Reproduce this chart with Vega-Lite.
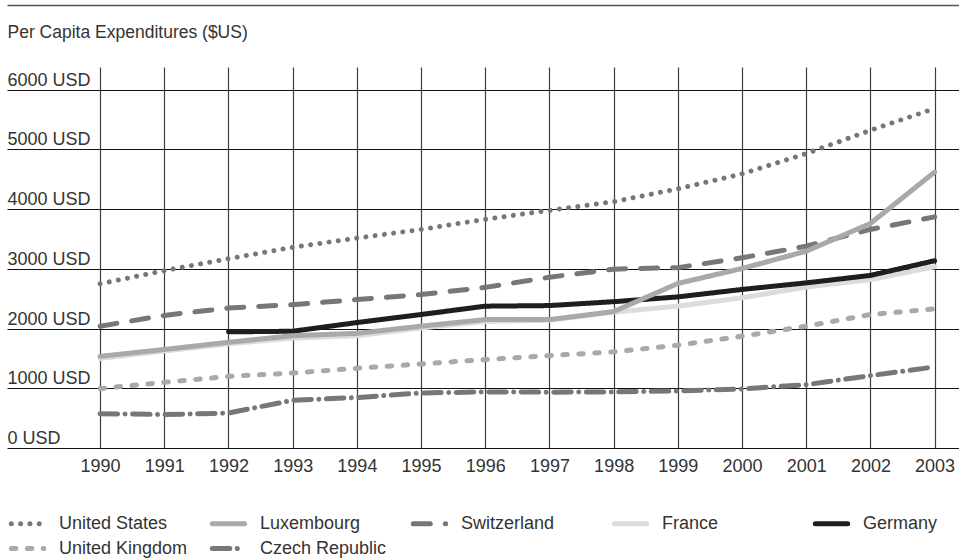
{
  "$schema": "https://vega.github.io/schema/vega-lite/v6.json",
  "width": 952,
  "height": 381,
  "autosize": {"type": "none"},
  "padding": {"left": 7, "top": 67, "right": 0, "bottom": 112},
  "background": "white",
  "config": {
    "view": {"stroke": null},
    "font": "Liberation Sans",
    "text": {"font": "Liberation Sans"}
  },
  "data": {
    "values": [
      {"country": "Czech Republic", "year": 1990, "value": 575},
      {"country": "Czech Republic", "year": 1991, "value": 560},
      {"country": "Czech Republic", "year": 1992, "value": 585},
      {"country": "Czech Republic", "year": 1993, "value": 800},
      {"country": "Czech Republic", "year": 1994, "value": 845},
      {"country": "Czech Republic", "year": 1995, "value": 922},
      {"country": "Czech Republic", "year": 1996, "value": 939},
      {"country": "Czech Republic", "year": 1997, "value": 935},
      {"country": "Czech Republic", "year": 1998, "value": 939},
      {"country": "Czech Republic", "year": 1999, "value": 955},
      {"country": "Czech Republic", "year": 2000, "value": 989},
      {"country": "Czech Republic", "year": 2001, "value": 1061},
      {"country": "Czech Republic", "year": 2002, "value": 1212},
      {"country": "Czech Republic", "year": 2003, "value": 1358},
      {"country": "United Kingdom", "year": 1990, "value": 995},
      {"country": "United Kingdom", "year": 1991, "value": 1100},
      {"country": "United Kingdom", "year": 1992, "value": 1200},
      {"country": "United Kingdom", "year": 1993, "value": 1255},
      {"country": "United Kingdom", "year": 1994, "value": 1335},
      {"country": "United Kingdom", "year": 1995, "value": 1408},
      {"country": "United Kingdom", "year": 1996, "value": 1480},
      {"country": "United Kingdom", "year": 1997, "value": 1547},
      {"country": "United Kingdom", "year": 1998, "value": 1610},
      {"country": "United Kingdom", "year": 1999, "value": 1721},
      {"country": "United Kingdom", "year": 2000, "value": 1872},
      {"country": "United Kingdom", "year": 2001, "value": 2039},
      {"country": "United Kingdom", "year": 2002, "value": 2235},
      {"country": "United Kingdom", "year": 2003, "value": 2330},
      {"country": "France", "year": 1990, "value": 1500},
      {"country": "France", "year": 1991, "value": 1625},
      {"country": "France", "year": 1992, "value": 1745},
      {"country": "France", "year": 1993, "value": 1840},
      {"country": "France", "year": 1994, "value": 1880},
      {"country": "France", "year": 1995, "value": 2010},
      {"country": "France", "year": 1996, "value": 2120},
      {"country": "France", "year": 1997, "value": 2140},
      {"country": "France", "year": 1998, "value": 2275},
      {"country": "France", "year": 1999, "value": 2375},
      {"country": "France", "year": 2000, "value": 2515},
      {"country": "France", "year": 2001, "value": 2695},
      {"country": "France", "year": 2002, "value": 2820},
      {"country": "France", "year": 2003, "value": 3035},
      {"country": "Germany", "year": 1992, "value": 1945},
      {"country": "Germany", "year": 1993, "value": 1955},
      {"country": "Germany", "year": 1994, "value": 2100},
      {"country": "Germany", "year": 1995, "value": 2235},
      {"country": "Germany", "year": 1996, "value": 2375},
      {"country": "Germany", "year": 1997, "value": 2385},
      {"country": "Germany", "year": 1998, "value": 2450},
      {"country": "Germany", "year": 1999, "value": 2530},
      {"country": "Germany", "year": 2000, "value": 2655},
      {"country": "Germany", "year": 2001, "value": 2765},
      {"country": "Germany", "year": 2002, "value": 2890},
      {"country": "Germany", "year": 2003, "value": 3135},
      {"country": "Switzerland", "year": 1990, "value": 2040},
      {"country": "Switzerland", "year": 1991, "value": 2220},
      {"country": "Switzerland", "year": 1992, "value": 2345},
      {"country": "Switzerland", "year": 1993, "value": 2400},
      {"country": "Switzerland", "year": 1994, "value": 2485},
      {"country": "Switzerland", "year": 1995, "value": 2570},
      {"country": "Switzerland", "year": 1996, "value": 2690},
      {"country": "Switzerland", "year": 1997, "value": 2860},
      {"country": "Switzerland", "year": 1998, "value": 2995},
      {"country": "Switzerland", "year": 1999, "value": 3020},
      {"country": "Switzerland", "year": 2000, "value": 3185},
      {"country": "Switzerland", "year": 2001, "value": 3380},
      {"country": "Switzerland", "year": 2002, "value": 3660},
      {"country": "Switzerland", "year": 2003, "value": 3870},
      {"country": "Luxembourg", "year": 1990, "value": 1535},
      {"country": "Luxembourg", "year": 1991, "value": 1650},
      {"country": "Luxembourg", "year": 1992, "value": 1770},
      {"country": "Luxembourg", "year": 1993, "value": 1880},
      {"country": "Luxembourg", "year": 1994, "value": 1920},
      {"country": "Luxembourg", "year": 1995, "value": 2040},
      {"country": "Luxembourg", "year": 1996, "value": 2150},
      {"country": "Luxembourg", "year": 1997, "value": 2150},
      {"country": "Luxembourg", "year": 1998, "value": 2285},
      {"country": "Luxembourg", "year": 1999, "value": 2755},
      {"country": "Luxembourg", "year": 2000, "value": 3005},
      {"country": "Luxembourg", "year": 2001, "value": 3295},
      {"country": "Luxembourg", "year": 2002, "value": 3760},
      {"country": "Luxembourg", "year": 2003, "value": 4620},
      {"country": "United States", "year": 1990, "value": 2750},
      {"country": "United States", "year": 1991, "value": 2970},
      {"country": "United States", "year": 1992, "value": 3170},
      {"country": "United States", "year": 1993, "value": 3360},
      {"country": "United States", "year": 1994, "value": 3515},
      {"country": "United States", "year": 1995, "value": 3660},
      {"country": "United States", "year": 1996, "value": 3830},
      {"country": "United States", "year": 1997, "value": 3980},
      {"country": "United States", "year": 1998, "value": 4125},
      {"country": "United States", "year": 1999, "value": 4340},
      {"country": "United States", "year": 2000, "value": 4590},
      {"country": "United States", "year": 2001, "value": 4930},
      {"country": "United States", "year": 2002, "value": 5320},
      {"country": "United States", "year": 2003, "value": 5685}
    ]
  },
  "layer": [
    {
      "mark": {"type": "line", "strokeWidth": 5, "strokeCap": "round", "strokeJoin": "round"},
      "encoding": {
        "x": {
          "field": "year",
          "type": "quantitative",
          "scale": {"domain": [1988.55, 2003.38], "nice": false, "zero": false},
          "axis": {
            "values": [1990, 1991, 1992, 1993, 1994, 1995, 1996, 1997, 1998, 1999, 2000, 2001, 2002, 2003],
            "format": "d",
            "title": null,
            "grid": true,
            "gridColor": "#3c3c3c",
            "gridWidth": 1.2,
            "domain": false,
            "ticks": false,
            "tickSize": 0,
            "labelPadding": 9,
            "labelFontSize": 18,
            "labelColor": "#333333",
            "labelOverlap": false,
            "labelFlush": false,
            "labelBound": false
          }
        },
        "y": {
          "field": "value",
          "type": "quantitative",
          "scale": {"domain": [0, 6380], "nice": false, "zero": true},
          "axis": {
            "values": [0, 1000, 2000, 3000, 4000, 5000, 6000],
            "format": "d",
            "labelExpr": "datum.label + ' USD'",
            "title": "Per Capita Expenditures ($US)",
            "titleAngle": 0,
            "titleAlign": "left",
            "titleBaseline": "alphabetic",
            "titleX": 0,
            "titleY": -30,
            "titleFontSize": 17.5,
            "titleFontWeight": "normal",
            "titleColor": "#333333",
            "grid": true,
            "gridColor": "#111111",
            "gridWidth": 1.2,
            "domain": false,
            "ticks": false,
            "tickSize": 0,
            "labelAlign": "left",
            "labelBaseline": "alphabetic",
            "labelPadding": 0,
            "labelOffset": -4.5,
            "labelFontSize": 18,
            "labelColor": "#333333",
            "labelOverlap": false,
            "labelFlush": false,
            "labelBound": false
          }
        },
        "color": {
          "field": "country",
          "type": "nominal",
          "scale": {
            "domain": ["United States", "Luxembourg", "Switzerland", "France", "Germany", "United Kingdom", "Czech Republic"],
            "range": ["#777777", "#a9a9a9", "#777777", "#dcdcdc", "#1e1e1e", "#a9a9a9", "#777777"]
          },
          "legend": {
            "title": null,
            "orient": "none",
            "legendX": 6,
            "legendY": 442,
            "direction": "horizontal",
            "columns": 5,
            "gridAlign": "all",
            "columnPadding": 14,
            "rowPadding": 0,
            "symbolType": "M-1.35,0H1.35",
            "symbolSize": 576,
            "symbolStrokeWidth": 5,
            "labelFontSize": 18,
            "labelColor": "#333333",
            "labelOffset": 17,
            "labelLimit": 300,
            "encode": {"symbols": {"update": {"strokeCap": {"value": "round"}}}}
          }
        },
        "strokeDash": {
          "field": "country",
          "type": "nominal",
          "scale": {
            "domain": ["United States", "Luxembourg", "Switzerland", "France", "Germany", "United Kingdom", "Czech Republic"],
            "range": [[0.01, 9.3], [1, 0], [17, 15], [1, 0], [1, 0], [4.5, 11.5], [17.5, 7.5, 0.01, 7.5]]
          },
          "legend": {
            "title": null,
            "orient": "none",
            "legendX": 6,
            "legendY": 442,
            "direction": "horizontal",
            "columns": 5,
            "gridAlign": "all",
            "columnPadding": 14,
            "rowPadding": 0,
            "symbolType": "M-1.35,0H1.35",
            "symbolSize": 576,
            "symbolStrokeWidth": 5,
            "labelFontSize": 18,
            "labelColor": "#333333",
            "labelOffset": 17,
            "labelLimit": 300,
            "encode": {"symbols": {"update": {"strokeCap": {"value": "round"}}}}
          }
        }
      }
    },
    {
      "mark": {"type": "point", "opacity": 0},
      "encoding": {
        "x": {
          "field": "year",
          "type": "quantitative",
          "scale": {"domain": [1988.55, 2003.38], "nice": false, "zero": false},
          "axis": {
            "orient": "top",
            "offset": 62,
            "labels": false,
            "ticks": false,
            "grid": false,
            "domain": true,
            "domainColor": "#555555",
            "domainWidth": 1.5,
            "title": null
          }
        }
      }
    }
  ],
  "resolve": {"axis": {"x": "independent"}}
}
